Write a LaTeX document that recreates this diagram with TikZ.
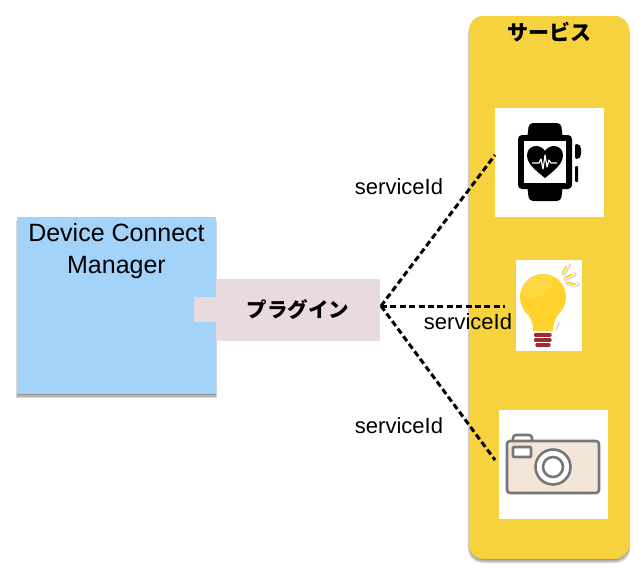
\documentclass[tikz,border=0pt]{standalone}
\usepackage{fontspec}
\setmainfont{Liberation Sans}
\newfontfamily\jpfont{Noto Sans CJK JP}
\definecolor{mgrblue}{HTML}{A3D3F9}
\definecolor{plugpink}{HTML}{E9DADE}
\definecolor{svcyellow}{HTML}{F5D23E}
\definecolor{bulbyellow}{HTML}{FFD22E}
\definecolor{bulblight}{HTML}{FFD844}
\definecolor{bulbred}{HTML}{A5282A}
\definecolor{camfill}{HTML}{F3E6D8}
\definecolor{camline}{HTML}{777777}
\tikzset{
  plainbox/.style={draw=none,inner sep=0pt,outer sep=0pt,minimum width=#1},
  conn/.style={draw=black,line width=3pt,dash pattern=on 6pt off 3.4pt},
  lab/.style={inner sep=0pt,font=\fontsize{22}{24}\selectfont},
  shadelayer/.style={fill=black,fill opacity=.16},
}
\begin{document}
\begin{tikzpicture}[x=1pt,y=-1pt]
\useasboundingbox (0,0) rectangle (642,576);
\fill[white] (0,0) rectangle (642,576);
% soft shadows
\foreach \d in {0,1,2,3,4}{
  \fill[shadelayer,rounded corners=15pt] (471-\d*0.8,20) rectangle (627+\d*0.8,557+\d*1.5);
  \fill[shadelayer] (19-\d*0.8,221) rectangle (214+\d*0.8,392+\d*1.5);
}
% service panel
\node[plainbox=160pt,minimum height=543pt,fill=svcyellow,rounded corners=14pt] (svc) at (549,287.5) {};
\node[inner sep=0pt,font=\jpfont\bfseries\fontsize{21}{24}\selectfont] (svct) at (549,32) {サービス};
% manager
\node[plainbox=199pt,minimum height=177pt,fill=mgrblue] (mgr) at (116.5,305.5) {};
\node[inner sep=0pt,align=center,font=\fontsize{25}{32}\selectfont] (mgrt) at (116.5,251) {Device Connect\\Manager};
% plugin
\node[plainbox=164pt,minimum height=62pt,fill=plugpink] (plug) at (298,310) {};
\node[plainbox=24pt,minimum height=25pt,fill=plugpink] (tab) at (206,309.5) {};
\node[inner sep=0pt,font=\jpfont\bfseries\fontsize{20.5}{24}\selectfont] (plugt) at (298,310) {プラグイン};
% white tiles
\node[plainbox=109pt,minimum height=109pt,fill=white] (watch) at (549.5,162.5) {};
\node[plainbox=66pt,minimum height=91pt,fill=white] (bulb) at (549,305.5) {};
\node[plainbox=109pt,minimum height=109pt,fill=white] (cam) at (553.5,464.5) {};
% connectors
\coordinate (hub) at (381,306);
\coordinate (e1) at (495,155);
\coordinate (e2) at (505,306);
\coordinate (e3) at (495,460);
\draw[conn] (hub) -- (e1);
\draw[conn] (hub) -- (e2);
\draw[conn] (hub) -- (e3);
\node[lab] (l1) at (399,186.5) {serviceId};
\node[lab] (l2) at (468,321.5) {serviceId};
\node[lab] (l3) at (399,425.5) {serviceId};
% watch icon
\fill[black,rounded corners=4pt] (527,140) -- (529,123) -- (561,123) -- (563,140) -- cycle;
\fill[black,rounded corners=4pt] (527,184) -- (529,201) -- (561,201) -- (563,184) -- cycle;
\fill[black,rounded corners=4pt] (518,135) rectangle (572,189);
\fill[white] (524,141) rectangle (566,183);
\fill[black,rounded corners=2pt] (575,144) -- (579,144) -- (581,147) -- (581,156) -- (579,159) -- (575,159) -- cycle;
\fill[black,rounded corners=1pt] (575,166) rectangle (578,182);
\fill[black] (545,178) .. controls (538,172) and (527,165) .. (527,155) .. controls (527,149) and (532,146) .. (536,146) .. controls (540,146) and (543,148) .. (545,151) .. controls (547,148) and (550,146) .. (554,146) .. controls (558,146) and (563,149) .. (563,155) .. controls (563,165) and (552,172) .. (545,178) -- cycle;
\draw[white,line width=1.2pt,line join=round] (532,163) -- (539,163) -- (541,159) -- (543,169) -- (545,155) -- (547,167) -- (549,160) -- (551,163) -- (557,163);
% bulb icon
\draw[gray!45,line width=1pt] (555,347) -- (556,336) (559,322) -- (556,331);
\fill[white] (543,297) circle (25.5);
\fill[white,rounded corners=3pt] (530,310) rectangle (556,349);
\fill[bulbyellow] (543,297) circle (23);
\fill[bulbyellow] (526,312) .. controls (531,318) and (533,322) .. (533,331) -- (553,331) .. controls (553,322) and (556,318) .. (560,312) -- cycle;
\fill[bulblight] (521,292) .. controls (524,278) and (540,270) .. (552,276) .. controls (555,285) and (548,294) .. (536,298) .. controls (530,300) and (524,297) .. (521,292) -- cycle;
\draw[bulbred,line width=3.4pt,line cap=round] (535.5,335) -- (550,335);
\draw[bulbred,line width=3.4pt,line cap=round] (535.5,340) -- (550,340);
\draw[bulbred,line width=3.4pt,line cap=round] (537,345) -- (549,345);
\draw[gray!35,line width=4.5pt,line cap=round] (563.5,273.5) -- (568.5,265.5) (565.5,278.5) -- (574.5,274.5) (567.5,283.5) -- (577.5,284.5);
\draw[white,line width=3.5pt,line cap=round] (562.5,273) -- (567.5,265) (564.5,278) -- (573.5,274) (566.5,283) -- (576.5,284);
\draw[bulbyellow,line width=2pt,line cap=round] (562.5,273) -- (566.5,266.5);
\draw[bulbyellow,line width=2pt,line cap=round] (564.5,278) -- (572,274.5);
\draw[bulbyellow,line width=2pt,line cap=round] (566.5,283) -- (575,284);
% camera icon
\draw[camline,line width=2.6pt,fill=white,rounded corners=3pt] (513,442) -- (513,435) -- (532,435) -- (532,442);
\draw[camline,line width=2.6pt,fill=camfill,rounded corners=3pt] (507,441) rectangle (599,493);
\draw[camline,line width=2.6pt,fill=white,rounded corners=1pt] (513,447) rectangle (531,457);
\draw[camline,line width=2.6pt,fill=white] (553,467) circle (17.5);
\draw[camline,line width=2.6pt,fill=white] (553,467) circle (10);
\end{tikzpicture}
\end{document}
